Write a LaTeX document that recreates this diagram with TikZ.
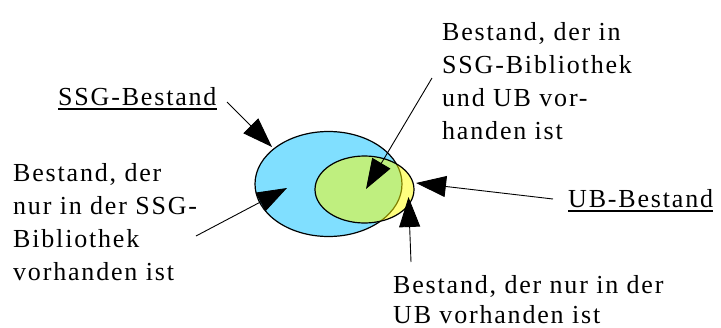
\documentclass[tikz,border=0pt]{standalone}
\usepackage{fontspec}
\setmainfont{Liberation Serif}[LetterSpace=7.0]
\usetikzlibrary{arrows.meta,shapes.geometric}
\definecolor{ssgblue}{RGB}{128,223,255}
\definecolor{ubyellow}{RGB}{255,255,0}
\newcommand\myul[1]{\setbox0\hbox{#1}\leavevmode\rlap{\rule[-4.5pt]{\wd0}{1.4pt}}\box0}
\tikzset{
  lbl/.style={inner sep=0pt, font=\fontsize{26}{33}\selectfont, align=left, anchor=north west},
  ttl/.style={inner sep=0pt, font=\fontsize{26}{33}\selectfont, anchor=base west},
  arr/.style={line width=0.9pt, -{Triangle[length=30pt,width=21pt]}},
}
\begin{document}
\begin{tikzpicture}[x=1pt,y=-1pt]
\useasboundingbox (0,0) rectangle (721,327);
% sets
\node[ellipse, draw, line width=1.2pt, fill=ssgblue, inner sep=0pt,
      minimum width=147pt, minimum height=105pt] (ssg) at (328.5,184) {};
\node[ellipse, draw, line width=1.2pt, fill=ubyellow, fill opacity=0.5, inner sep=0pt,
      minimum width=99pt, minimum height=67pt] (ub) at (364.5,189.5) {};
% texts
\node[ttl] (tssg) at (58,105) {\myul{SSG-Bestand}};
\node[ttl] (tub) at (568,207) {\myul{UB-Bestand}};
\node[lbl] (tleft) at (13,163) {Bestand, der\\nur in der SSG-\\Bibliothek\\vorhanden ist};
\node[lbl] (ttop) at (442,22) {Bestand, der in\\SSG-Bibliothek\\und UB vor-\\handen ist};
\node[lbl, font=\fontsize{26}{29.5}\selectfont] (tbot) at (393,275.5) {Bestand, der nur in der\\UB vorhanden ist};
% arrow ends
\coordinate (s1) at (227,102); \coordinate (e1) at (272,147);
\coordinate (s2) at (196,236); \coordinate (e2) at (287,188);
\coordinate (s3) at (432,78);  \coordinate (e3) at (366,189);
\coordinate (s4) at (553,199); \coordinate (e4) at (416,183);
\coordinate (s5) at (411,262); \coordinate (e5) at (408.5,197);
\draw[arr] (s1) -- (e1);
\draw[arr] (s2) -- (e2);
\draw[arr] (s3) -- (e3);
\draw[arr] (s4) -- (e4);
\draw[arr] (s5) -- (e5);
\end{tikzpicture}
\end{document}
